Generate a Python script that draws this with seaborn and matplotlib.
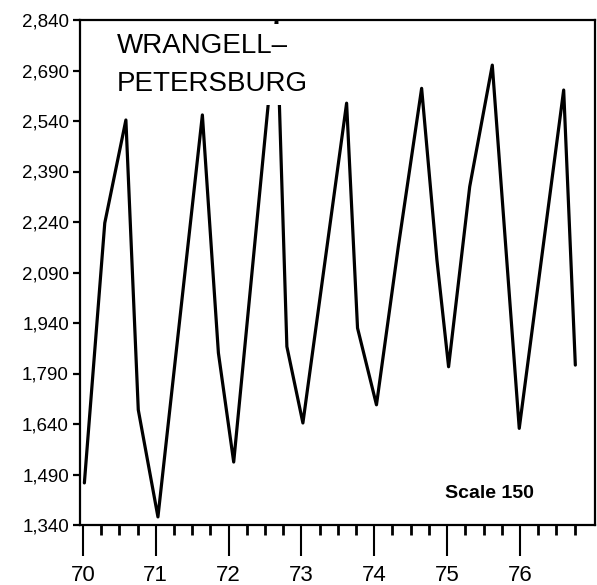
import matplotlib
matplotlib.use("Agg")
import matplotlib.pyplot as plt
import seaborn as sns
import pandas as pd
from matplotlib.ticker import FixedLocator, FuncFormatter, NullFormatter

# Traffic series, Wrangell–Petersburg (vertices of the seasonal curve)
years = [70.02, 70.30, 70.59, 70.76, 71.03, 71.64, 71.86, 72.07, 72.66, 72.80,
         73.02, 73.62, 73.77, 74.03, 74.33, 74.65, 74.86, 75.02, 75.31, 75.62,
         75.99, 76.60, 76.76]
traffic = [1465, 2237, 2543, 1682, 1364, 2558, 1851, 1527, 2850, 1870,
           1643, 2593, 1925, 1697, 2167, 2637, 2127, 1810, 2345, 2706,
           1627, 2632, 1815]

y_ticks = [1340, 1490, 1640, 1790, 1940, 2090, 2240, 2390, 2540, 2690, 2840]
x_major = [70, 71, 72, 73, 74, 75, 76]
x_labels = ["70", "71", "72", "73", "74", "75", "76"]

sns.set_style("ticks")
plt.rcParams["font.family"] = ["Liberation Sans", "DejaVu Sans"]
plt.rcParams["text.color"] = "black"
plt.rcParams["xtick.color"] = "black"
plt.rcParams["ytick.color"] = "black"
plt.rcParams["axes.edgecolor"] = "black"

fig = plt.figure(figsize=(5.97, 5.85), dpi=100)
ax = fig.add_axes([80 / 597, 1 - 525 / 585, 515 / 597, 505 / 585])

df = pd.DataFrame({"year": years, "traffic": traffic})
sns.lineplot(data=df, x="year", y="traffic", ax=ax, color="black",
             linewidth=2.3, sort=False, zorder=2)

ax.set_xlim(69.96, 77.03)
ax.set_ylim(1340, 2840)
ax.set_xlabel("")
ax.set_ylabel("")

for side in ["left", "right", "top", "bottom"]:
    ax.spines[side].set_linewidth(1.6)
    ax.spines[side].set_color("black")
    ax.spines[side].set_zorder(4)

# y axis: comma-formatted scale steps of 150
ax.yaxis.set_major_locator(FixedLocator(y_ticks))
ax.yaxis.set_major_formatter(FuncFormatter(lambda v, p: f"{int(v):,}"))
ax.tick_params(axis="y", which="major", direction="out", length=5, width=1.6,
               labelsize=13.5, pad=3, left=True, right=False)

# x axis: long year ticks, short quarter ticks
minor = [y + q for y in x_major for q in (0.25, 0.5, 0.75)]
ax.xaxis.set_major_locator(FixedLocator(x_major))
ax.set_xticklabels(x_labels)
ax.xaxis.set_minor_locator(FixedLocator(minor))
ax.xaxis.set_minor_formatter(NullFormatter())
ax.tick_params(axis="x", which="major", direction="out", length=22, width=1.5,
               labelsize=16, pad=7, bottom=True, top=False)
ax.tick_params(axis="x", which="minor", direction="out", length=7, width=2.0,
               bottom=True, top=False)

# title block sits on a white panel that masks the curve beneath it
ax.text(0.072, 0.975, "WRANGELL–\nPETERSBURG", transform=ax.transAxes,
        ha="left", va="top", fontsize=20, linespacing=1.6, zorder=3,
        bbox=dict(facecolor="white", edgecolor="none", pad=6))

ax.text(0.709, 0.063, "Scale 150", transform=ax.transAxes, ha="left",
        va="center", fontsize=14, fontweight="bold", zorder=5)

fig.savefig("out.png", dpi=100, facecolor="white")
